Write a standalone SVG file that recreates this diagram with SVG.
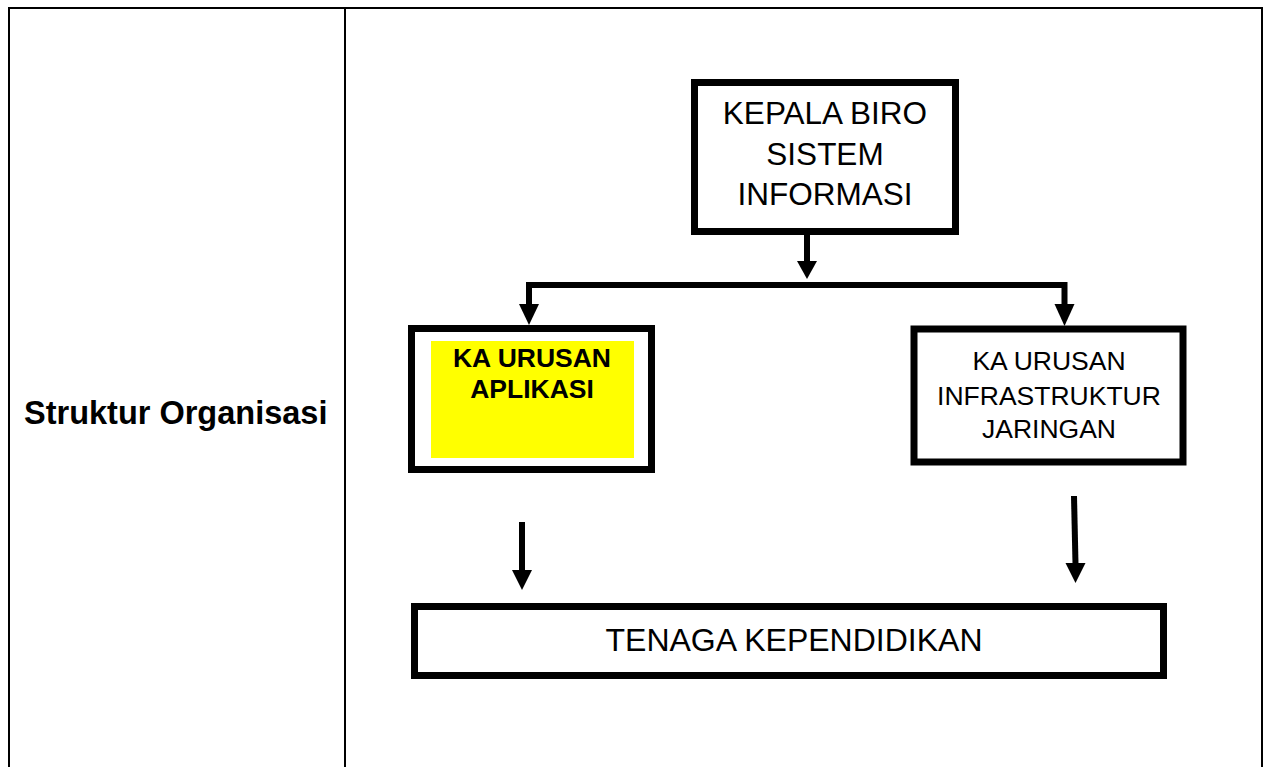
<svg xmlns="http://www.w3.org/2000/svg" width="1271" height="767" viewBox="0 0 1271 767">
<defs>
<style>
.tbl{fill:none;stroke:#000;stroke-width:2}
.box{fill:#fff;stroke:#000;stroke-width:7}
.t{font-family:"Liberation Sans",Arial,sans-serif;fill:#000;text-anchor:middle}
.b{font-weight:bold}
.ln{fill:none;stroke:#000;stroke-width:6}
.ah{fill:#000}
</style>
</defs>
<rect width="1271" height="767" fill="#fff"/>
<g id="table">
<path class="tbl" d="M9,775 V8 H1262 V775 M345,8 V775"/>
<text x="24" y="424" font-family="Liberation Sans,Arial,sans-serif" font-weight="bold" font-size="32.5" fill="#000">Struktur Organisasi</text>
</g>
<g id="kepala">
<rect class="box" x="694.5" y="82.5" width="261" height="149"/>
<text class="t" x="825" y="124" font-size="31.5">KEPALA BIRO</text>
<text class="t" x="825" y="165" font-size="31.5">SISTEM</text>
<text class="t" x="825" y="205" font-size="31.5">INFORMASI</text>
</g>
<g id="aplikasi">
<rect class="box" x="411.5" y="328.5" width="240" height="141"/>
<rect x="431" y="341" width="203" height="117" fill="#ffff00"/>
<text class="t b" x="532" y="367" font-size="26.5">KA URUSAN</text>
<text class="t b" x="532" y="398" font-size="26.5">APLIKASI</text>
</g>
<g id="infrastruktur">
<rect class="box" x="914" y="329" width="269" height="133"/>
<text class="t" x="1049" y="370" font-size="26.5">KA URUSAN</text>
<text class="t" x="1049" y="405" font-size="26.5">INFRASTRUKTUR</text>
<text class="t" x="1049" y="438" font-size="26.5">JARINGAN</text>
</g>
<g id="tenaga">
<rect class="box" x="414.5" y="606.5" width="749" height="69"/>
<text class="t" x="794" y="651" font-size="32">TENAGA KEPENDIDIKAN</text>
</g>
<g id="connectors">
<path class="ln" d="M807,235 V262"/>
<polygon class="ah" points="797,261 817,261 807,279"/>
<path class="ln" d="M529,305 V285 H1064.5 V305"/>
<polygon class="ah" points="519,304 539,304 529,325"/>
<polygon class="ah" points="1054.5,304 1074.5,304 1064.5,326"/>
<path class="ln" d="M522,522 V571"/>
<polygon class="ah" points="512,570 532,570 522,590"/>
<path class="ln" d="M1074,496 L1075.5,564"/>
<polygon class="ah" points="1065.5,563 1085.5,563 1075.5,583"/>
</g>
</svg>
